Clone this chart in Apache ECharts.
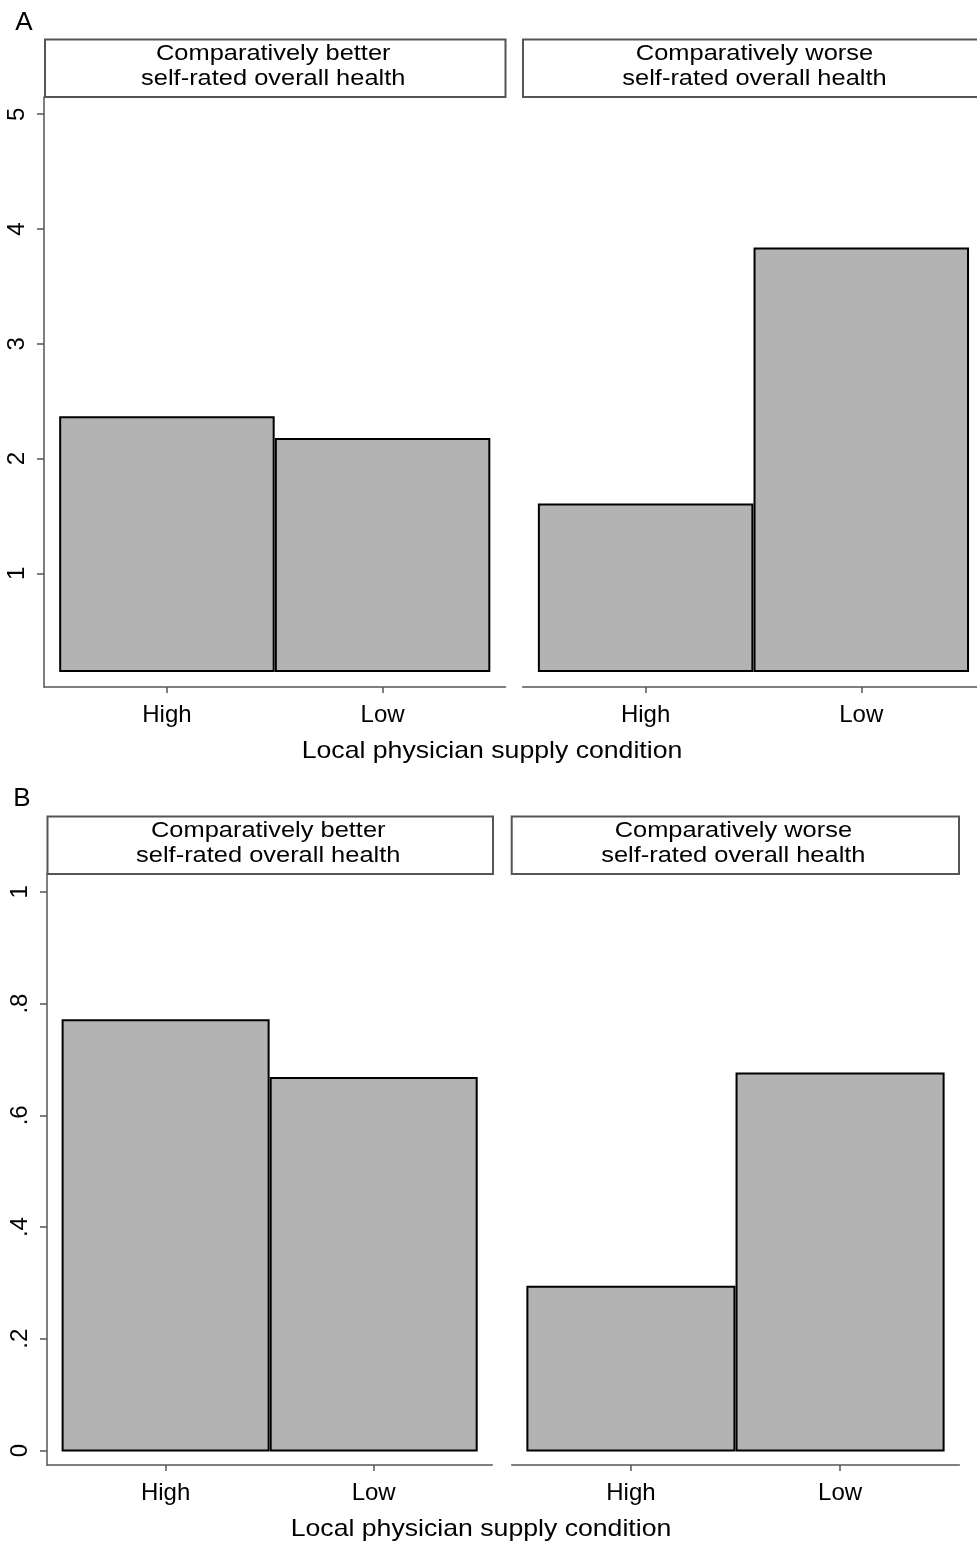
<!DOCTYPE html>
<html>
<head>
<meta charset="utf-8">
<script src="https://cdn.jsdelivr.net/npm/echarts@6/dist/echarts.min.js"></script>
<style>
  html, body { margin: 0; padding: 0; background: #fff; overflow: hidden; }
  #chart { width: 985px; height: 1544px; }
</style>
</head>
<body>
<div id="chart"></div>
<script>
// categories and values
const supply = ['High', 'Low']
const healthGroups = [
  'Comparatively better\nself-rated overall health',
  'Comparatively worse\nself-rated overall health'
]
const panelABetter = [2.36, 2.17]
const panelAWorse = [1.60, 3.83]
const panelBBetter = [0.770, 0.667]
const panelBWorse = [0.293, 0.675]
const panelATicks = [1, 2, 3, 4, 5]
const panelBTicks = [0, 0.2, 0.4, 0.6, 0.8, 1]
const panelABase = 0.15 // bars in panel A start slightly above zero

const FONT = '"Liberation Sans", Arial, sans-serif'
const AXIS_GRAY = '#555'
const BAR_FILL = '#b3b3b3'
const TEXT = '#000'

// facet layout (px)
const facets = [
  { left: 44, top: 97, width: 461.5, height: 590, panel: 'A', values: panelABetter, showY: true },
  { left: 522.7, top: 97, width: 461.5, height: 590, panel: 'A', values: panelAWorse, showY: false },
  { left: 47, top: 874, width: 445.3, height: 591, panel: 'B', values: panelBBetter, showY: true },
  { left: 511.7, top: 874, width: 447.6, height: 591, panel: 'B', values: panelBWorse, showY: false }
]

const yRange = { A: [0.01, 5.15], B: [-0.026, 1.032] }
const yTicks = { A: panelATicks, B: panelBTicks }
const yBase = { A: panelABase, B: 0 }
const barUnits = 0.99 // bar width in x-axis units

function yLabel (v) {
  if (v === 0 || v >= 1) return String(v)
  return String(v).replace(/^0/, '')
}

const grid = []
const xAxis = []
const yAxis = []
const series = []

facets.forEach((f, i) => {
  grid.push({ left: f.left, top: f.top, width: f.width, height: f.height, containLabel: false })
  xAxis.push({
    type: 'value',
    gridIndex: i,
    min: 0.43,
    max: 2.57,
    axisLine: { show: true, onZero: false, lineStyle: { color: AXIS_GRAY, width: 1.5 } },
    axisTick: { show: true, customValues: [1, 2], length: 6, lineStyle: { color: AXIS_GRAY, width: 1.5 } },
    axisLabel: {
      customValues: [1, 2],
      formatter: v => supply[Math.round(v) - 1],
      fontFamily: FONT,
      fontSize: 24,
      color: TEXT,
      margin: 16
    },
    splitLine: { show: false }
  })
  yAxis.push({
    type: 'value',
    gridIndex: i,
    show: f.showY,
    min: yRange[f.panel][0],
    max: yRange[f.panel][1],
    axisLine: { show: true, onZero: false, lineStyle: { color: AXIS_GRAY, width: 1.5 } },
    axisTick: { show: true, customValues: yTicks[f.panel], length: 7, lineStyle: { color: AXIS_GRAY, width: 1.5 } },
    axisLabel: {
      customValues: yTicks[f.panel],
      formatter: yLabel,
      rotate: 90,
      fontFamily: FONT,
      fontSize: 24,
      color: TEXT,
      margin: 15
    },
    splitLine: { show: false }
  })

  const base = yBase[f.panel]
  series.push({
    type: 'custom',
    xAxisIndex: i,
    yAxisIndex: i,
    data: f.values.map((v, k) => [k + 1, v]),
    renderItem: function (params, api) {
      const x = api.value(0)
      const top = api.coord([x - barUnits / 2, api.value(1)])
      const bottom = api.coord([x + barUnits / 2, base])
      return {
        type: 'rect',
        shape: { x: top[0], y: top[1], width: bottom[0] - top[0], height: bottom[1] - top[1] },
        style: { fill: BAR_FILL, stroke: '#000', lineWidth: 2 }
      }
    }
  })
})

// strip headers, panel letters and axis titles
const graphic = []
function header (x1, x2, y1, y2, text) {
  graphic.push({
    type: 'rect',
    shape: { x: x1, y: y1, width: x2 - x1, height: y2 - y1 },
    style: { fill: '#fff', stroke: AXIS_GRAY, lineWidth: 2 }
  })
  graphic.push({
    type: 'text',
    x: (x1 + x2) / 2 - 2,
    y: (y1 + y2) / 2 - 1.5,
    scaleX: 1.13,
    style: {
      text: text,
      font: '22.5px ' + FONT,
      fill: TEXT,
      align: 'center',
      verticalAlign: 'middle',
      lineHeight: 25
    }
  })
}
function label (x, y, text, size, sx) {
  graphic.push({
    type: 'text',
    x: x,
    y: y,
    scaleX: sx,
    style: { text: text, font: size + 'px ' + FONT, fill: TEXT, align: 'center', verticalAlign: 'middle' }
  })
}

header(45, 505.5, 39.5, 97, healthGroups[0])
header(523, 990, 39.5, 97, healthGroups[1])
header(47.5, 493, 816.5, 874, healthGroups[0])
header(511.7, 959, 816.5, 874, healthGroups[1])
label(24, 23, 'A', 26, 1)
label(22, 799, 'B', 26, 1)
label(492, 751, 'Local physician supply condition', 24, 1.11)
label(481, 1529, 'Local physician supply condition', 24, 1.11)

const chart = echarts.init(document.getElementById('chart'), null, { renderer: 'canvas' })
chart.setOption({
  animation: false,
  backgroundColor: '#fff',
  grid: grid,
  xAxis: xAxis,
  yAxis: yAxis,
  series: series,
  graphic: graphic
})
window.addEventListener('resize', () => chart.resize())
</script>
</body>
</html>
